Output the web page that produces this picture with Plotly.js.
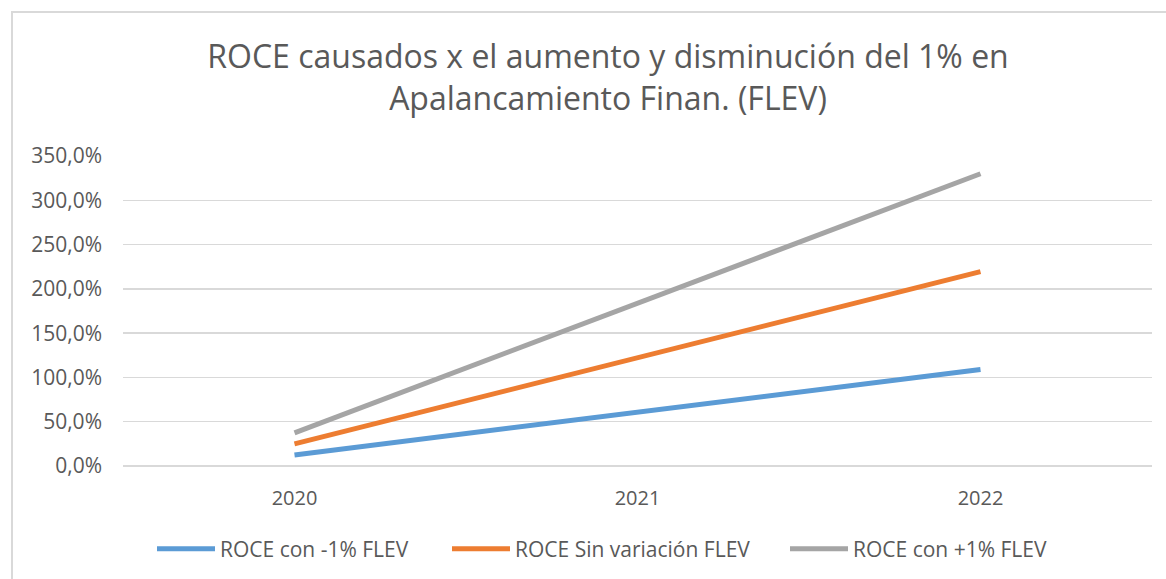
<!DOCTYPE html>
<html>
<head>
<meta charset="utf-8">
<script src="https://cdn.plot.ly/plotly-3.0.1.min.js"></script>
<style>html,body{margin:0;padding:0;background:#fff;}#chart{width:1166px;height:579px;}</style>
</head>
<body>
<div id="chart"></div>
<script>
const years = ["2020", "2021", "2022"];
const roceMenos1 = [12.5, 61, 109];
const roceSinVar = [25, 122, 219.5];
const roceMas1 = [37.5, 183, 330];
const seriesNames = ["ROCE con -1% FLEV", "ROCE Sin variación FLEV", "ROCE con +1% FLEV"];
const seriesColors = ["#5B9BD5", "#ED7D31", "#A5A5A5"];
const titleText = "ROCE causados x el aumento y disminución del 1% en<br>Apalancamiento Finan. (FLEV)";

const FONT = "Open Sans, Segoe UI, Liberation Sans, sans-serif";
const TXT = "#595959";

const W = 1166, H = 579;
const L = 123, R = 14, T = 156, B = 113;
const pw = W - L - R, ph = H - T - B;

const legendIds = ["legend", "legend2", "legend3"];
const legendLeftPx = [152, 447, 785];

const seriesData = [roceMenos1, roceSinVar, roceMas1];
const traces = seriesData.map((vals, i) => ({
  type: "scatter",
  mode: "lines",
  x: years,
  y: vals,
  name: seriesNames[i],
  legend: legendIds[i],
  line: {color: seriesColors[i], width: 5},
  hoverinfo: "skip"
}));

const layout = {
  width: W, height: H,
  margin: {l: L, r: R, t: T, b: B, pad: 0, autoexpand: false},
  paper_bgcolor: "#ffffff",
  plot_bgcolor: "#ffffff",
  separators: ", ",
  font: {family: FONT, color: TXT, size: 20},
  title: {
    text: titleText,
    font: {family: FONT, size: 32, color: TXT},
    x: 608 / W, xref: "container", xanchor: "center",
    y: 1 - 68 / H, yref: "container", yanchor: "top"
  },
  xaxis: {
    type: "category",
    range: [-0.5, 2.5],
    showgrid: false,
    showline: false,
    zeroline: false,
    ticks: "",
    ticklabelstandoff: 18,
    tickfont: {family: FONT, size: 20, color: TXT},
    fixedrange: true
  },
  yaxis: {
    range: [0, 350.05],
    dtick: 50,
    tick0: 0,
    tickformat: ".1f",
    ticksuffix: "%",
    showgrid: true,
    gridcolor: "#D9D9D9",
    gridwidth: 1.5,
    zeroline: true,
    zerolinecolor: "#D9D9D9",
    zerolinewidth: 1.5,
    showline: false,
    ticks: "",
    ticklabelstandoff: 20,
    tickfont: {family: FONT, size: 21, color: TXT},
    fixedrange: true
  },
  showlegend: true,
  shapes: [{
    type: "rect", xref: "paper", yref: "paper", layer: "below",
    x0: (12 - L) / pw, x1: (W + 10 - L) / pw,
    y0: (H - B - (H + 10)) / ph, y1: (H - B - 12) / ph,
    line: {color: "#D9D9D9", width: 2},
    fillcolor: "rgba(0,0,0,0)"
  }],
  hovermode: false
};

legendIds.forEach((id, i) => {
  layout[id] = {
    orientation: "h",
    x: (legendLeftPx[i] - L) / pw, xanchor: "left",
    y: (H - B - 549) / ph, yanchor: "middle",
    font: {family: FONT, size: 21, color: TXT},
    itemwidth: 58,
    bgcolor: "rgba(0,0,0,0)"
  };
});

Plotly.newPlot("chart", traces, layout, {displayModeBar: false, staticPlot: true});
</script>
</body>
</html>
